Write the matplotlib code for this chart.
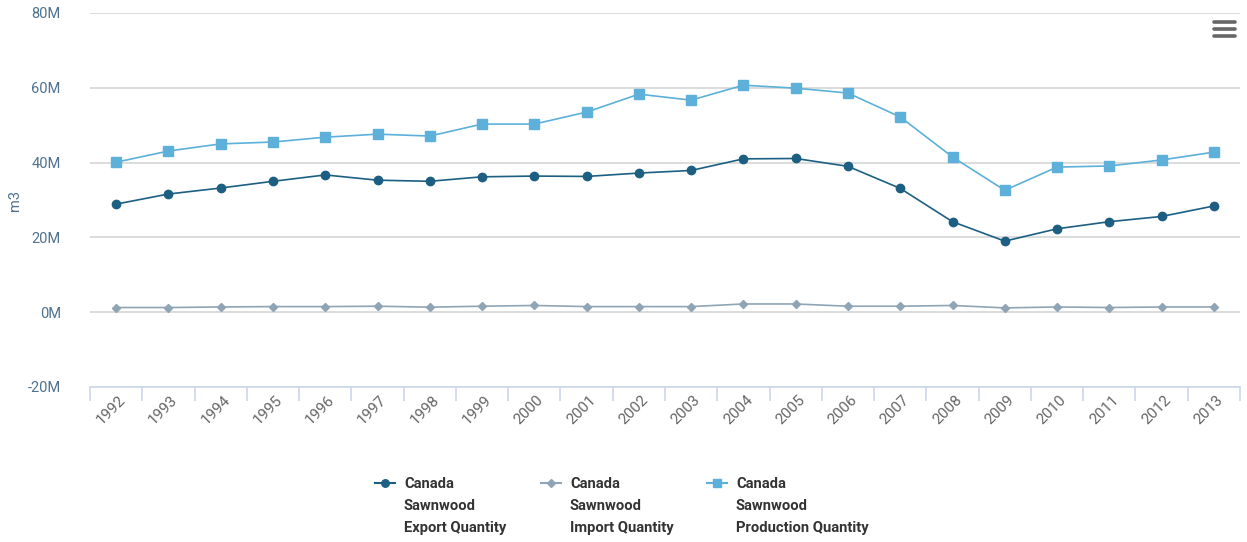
import numpy as np
import matplotlib
matplotlib.use("Agg")
import matplotlib.pyplot as plt
import matplotlib.transforms as mtransforms
from matplotlib.lines import Line2D
from matplotlib.ticker import FuncFormatter, FixedLocator

plt.rcParams['font.family'] = ['Roboto', 'DejaVu Sans']

years = [str(y) for y in range(1992, 2014)]

exportQty = [28.9, 31.6, 33.2, 35.0, 36.7, 35.3, 35.0, 36.2, 36.4, 36.3, 37.2,
             37.9, 41.0, 41.1, 39.0, 33.1, 24.2, 19.0, 22.3, 24.2, 25.6, 28.4]
importQty = [1.25, 1.25, 1.4, 1.5, 1.5, 1.6, 1.35, 1.6, 1.8, 1.5, 1.5,
             1.5, 2.2, 2.2, 1.6, 1.6, 1.8, 1.15, 1.4, 1.25, 1.4, 1.4]
productionQty = [40.1, 43.1, 45.0, 45.5, 46.8, 47.6, 47.1, 50.3, 50.3, 53.5, 58.3,
                 56.7, 60.7, 59.9, 58.6, 52.2, 41.5, 32.6, 38.8, 39.1, 40.7, 42.8]

seriesNames = ["Canada\nSawnwood\nExport Quantity",
               "Canada\nSawnwood\nImport Quantity",
               "Canada\nSawnwood\nProduction Quantity"]
colors = ["#1d5f82", "#8fa5b6", "#5cb0da"]
markers = ["o", "D", "s"]
sizes = [6, 4, 6.5]

W, H = 1247, 542
fig = plt.figure(figsize=(W / 100, H / 100), dpi=100)
ax = fig.add_axes([90 / W, 1 - 387 / H, (1240 - 90) / W, (387 - 13) / H])

x = np.arange(len(years))
data = [np.array(exportQty) * 1e6, np.array(importQty) * 1e6, np.array(productionQty) * 1e6]
for vals, c, m, s in zip(data, colors, markers, sizes):
    ax.plot(x, vals, color=c, lw=1.2, marker=m, markersize=s,
            markeredgecolor=c, zorder=3)

ax.set_xlim(-0.5, len(years) - 0.5)
ax.set_ylim(-20e6, 80e6)
ax.set_yticks(np.arange(-20e6, 80e6 + 1, 20e6))
ax.yaxis.set_major_formatter(FuncFormatter(lambda v, p: "%dM" % round(v / 1e6)))
ax.grid(axis="y", color="#d9d9d9", lw=1.3)
ax.set_axisbelow(True)
for side in ["top", "right", "left"]:
    ax.spines[side].set_visible(False)
ax.spines["bottom"].set_color("#ccd6eb")
ax.spines["bottom"].set_linewidth(1.2)
ax.spines["bottom"].set_zorder(4)

ax.tick_params(axis="y", length=0, pad=21, labelsize=10.5, labelcolor="#4e7290")

ax.set_xticks(x)
ax.set_xticklabels(years)
ax.xaxis.set_minor_locator(FixedLocator(np.arange(-0.5, len(years), 1)))
ax.tick_params(axis="x", which="major", length=0, pad=4, labelsize=11, labelcolor="#666666")
ax.tick_params(axis="x", which="minor", length=10, width=1.2, color="#ccd6eb")
offset = mtransforms.ScaledTranslation(12 / 100, 0, fig.dpi_scale_trans)
for lbl in ax.get_xticklabels():
    lbl.set_rotation(45)
    lbl.set_ha("right")
    lbl.set_va("top")
    lbl.set_transform(lbl.get_transform() + offset)

fig.text(15 / W, 1 - 200 / H, "m3", rotation=90, ha="center", va="center",
         fontsize=10.5, color="#4e7290")

# legend
legX = [375, 541, 707]
for lx, name, c, m, s in zip(legX, seriesNames, colors, markers, sizes):
    fig.add_artist(Line2D([lx / W, (lx + 20) / W], [1 - 483 / H, 1 - 483 / H],
                          transform=fig.transFigure, color=c, lw=1.5))
    fig.add_artist(Line2D([(lx + 10) / W], [1 - 483 / H], transform=fig.transFigure,
                          color=c, marker=m, markersize=s * 0.9, markeredgecolor=c))
    for i, line in enumerate(name.split("\n")):
        fig.text((lx + 29) / W, 1 - (484 + 22 * i) / H, line, ha="left", va="center",
                 fontsize=10.6, fontweight="bold", color="#333333")

# menu icon
for yy in [22, 29, 36]:
    fig.add_artist(Line2D([1214 / W, 1235 / W], [1 - yy / H, 1 - yy / H],
                          transform=fig.transFigure, color="#666666", lw=2.6,
                          solid_capstyle="round"))

fig.savefig("out.png", dpi=100)
